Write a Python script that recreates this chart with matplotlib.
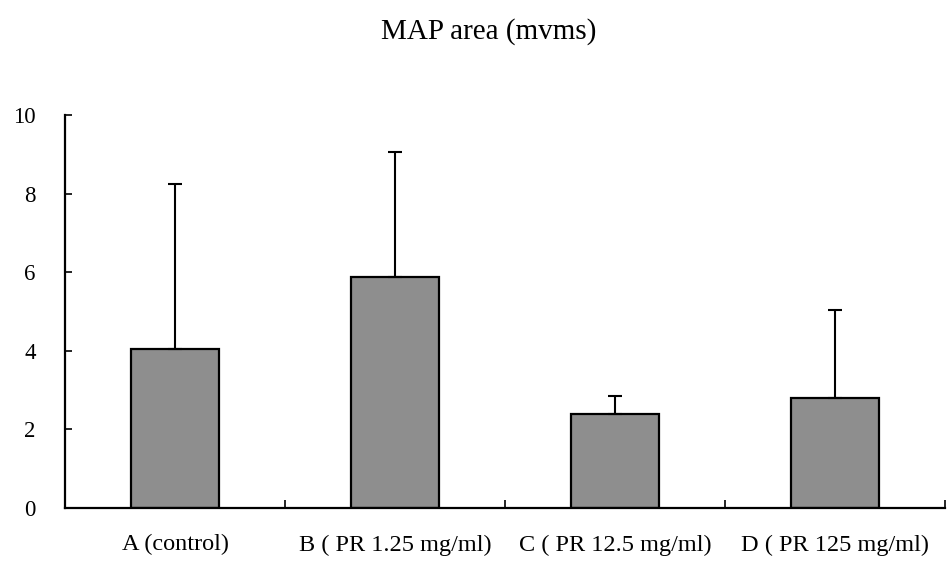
import matplotlib
matplotlib.use("Agg")
import matplotlib.pyplot as plt
import numpy as np

categories = ["A (control)", "B ( PR 1.25 mg/ml)", "C ( PR 12.5 mg/ml)", "D ( PR 125 mg/ml)"]
means = [4.05, 5.88, 2.39, 2.80]
errors = [4.19, 3.18, 0.46, 2.24]
yticks = [0, 2, 4, 6, 8, 10]

plt.rcParams['font.family'] = ['Liberation Serif', 'DejaVu Serif']

fig = plt.figure(figsize=(9.48, 5.72), dpi=100)
ax = fig.add_axes([0.0686, 0.112, 0.928, 0.687])

x = np.arange(len(categories))
ax.bar(x, means, width=0.40, color='#8e8e8e', edgecolor='black', linewidth=1.6,
       yerr=[np.zeros(len(errors)), errors],
       error_kw=dict(ecolor='black', elinewidth=1.5, capsize=5, capthick=1.5))

ax.set_xlim(-0.5, len(categories) - 0.5)
ax.set_ylim(0, 10)
ax.set_yticks(yticks)
ax.set_yticklabels([str(v) for v in yticks], fontsize=16.5)
ax.tick_params(axis='y', direction='in', length=5, width=1.2, pad=21)

ax.set_xticks(x)
ax.set_xticklabels(categories, fontsize=17.5)
ax.tick_params(axis='x', which='major', length=0, pad=19)
ax.set_xticks(np.arange(0.5, len(categories), 1.0), minor=True)
ax.tick_params(axis='x', which='minor', direction='in', length=6, width=1.2)

for s in ['top', 'right']:
    ax.spines[s].set_visible(False)
for s in ['left', 'bottom']:
    ax.spines[s].set_linewidth(1.6)

fig.text(0.515, 0.945, "MAP area (mvms)", ha='center', va='center', fontsize=21)

fig.savefig("out.png", dpi=100)
